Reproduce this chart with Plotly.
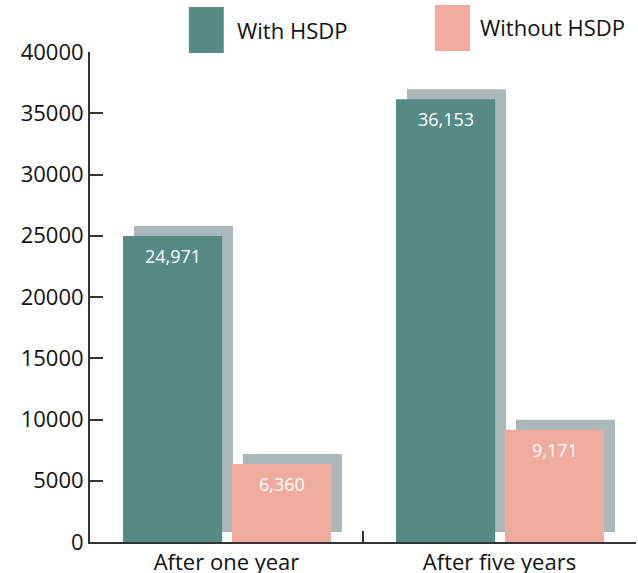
import plotly.graph_objects as go

# ---- data ----
categories = ["After one year", "After five years"]
series_names = ["With HSDP", "Without HSDP"]
with_hsdp = [24971, 36153]
without_hsdp = [6360, 9171]
y_tick_values = [0, 5000, 10000, 15000, 20000, 25000, 30000, 35000, 40000]
y_tick_labels = ["0", "5000", "10000", "15000", "20000", "25000", "30000", "35000", "40000"]

# ---- style ----
TEAL = "#568a84"
PINK = "#f0ab9f"
SHADOW = "#abb8bb"
AXIS = "#333333"
FONT = "Open Sans"
BAR_W = 0.363
OFFSETS = [-0.379, 0.020]
SH_DX = 0.040      # shadow shift right (category units)
SH_DY = 816        # shadow shift up (data units)

fig = go.Figure()
values = [with_hsdp, without_hsdp]
colors = [TEAL, PINK]

# shadows first
for vals, off in zip(values, OFFSETS):
    fig.add_trace(go.Bar(
        x=categories, y=vals, base=[SH_DY] * len(vals),
        width=BAR_W, offset=off + SH_DX,
        marker=dict(color=SHADOW, line=dict(width=0)),
        hoverinfo="skip", showlegend=False,
    ))
# main bars
for name, vals, off, col in zip(series_names, values, OFFSETS, colors):
    fig.add_trace(go.Bar(
        x=categories, y=vals, name=name,
        width=BAR_W, offset=off,
        marker=dict(color=col, line=dict(width=0)),
        showlegend=False,
    ))
    for i, v in enumerate(vals):
        fig.add_annotation(
            x=i + off + BAR_W / 2, y=v, xref="x", yref="y",
            text=f"{v:,}", showarrow=False, yshift=-20,
            font=dict(family=FONT, size=18, color="white"),
        )

# custom legend (large swatches)
legend_boxes = [(0.181, 0.245, 0.998, 1.092), (0.632, 0.696, 1.002, 1.096)]
legend_text_pos = [(0.2656, 1.045), (0.7106, 1.051)]
for name, col, box, tp in zip(series_names, colors, legend_boxes, legend_text_pos):
    fig.add_shape(type="rect", xref="paper", yref="paper",
                  x0=box[0], x1=box[1], y0=box[2], y1=box[3],
                  fillcolor=col, line=dict(width=0))
    fig.add_annotation(xref="paper", yref="paper", x=tp[0], y=tp[1],
                       text=name, showarrow=False, xanchor="left", yanchor="middle",
                       font=dict(family=FONT, size=22, color="#111111"))

fig.update_layout(
    barmode="overlay",
    width=638, height=573,
    margin=dict(l=90, r=2, t=52, b=31, autoexpand=False),
    plot_bgcolor="white", paper_bgcolor="white",
    font=dict(family=FONT, size=22, color="#111111"),
    showlegend=False,
    xaxis=dict(
        type="category", range=[-0.5, 1.5], automargin=False,
        showline=True, linecolor=AXIS, linewidth=2,
        ticks="inside", tickson="boundaries", ticklen=11, tickwidth=2, tickcolor=AXIS,
        showgrid=False, zeroline=False,
        tickfont=dict(family=FONT, size=22, color="#111111"),
    ),
    yaxis=dict(
        range=[0, 40000], automargin=False,
        tickvals=y_tick_values, ticktext=y_tick_labels,
        showline=True, linecolor=AXIS, linewidth=2,
        ticks="inside", ticklen=13, tickwidth=2, tickcolor=AXIS,
        showgrid=False, zeroline=False,
        tickfont=dict(family=FONT, size=22, color="#111111"),
    ),
)

fig.write_html("out.html",
               config={"displayModeBar": False},
               post_script="document.body.style.margin='0';document.body.style.overflow='hidden';")
